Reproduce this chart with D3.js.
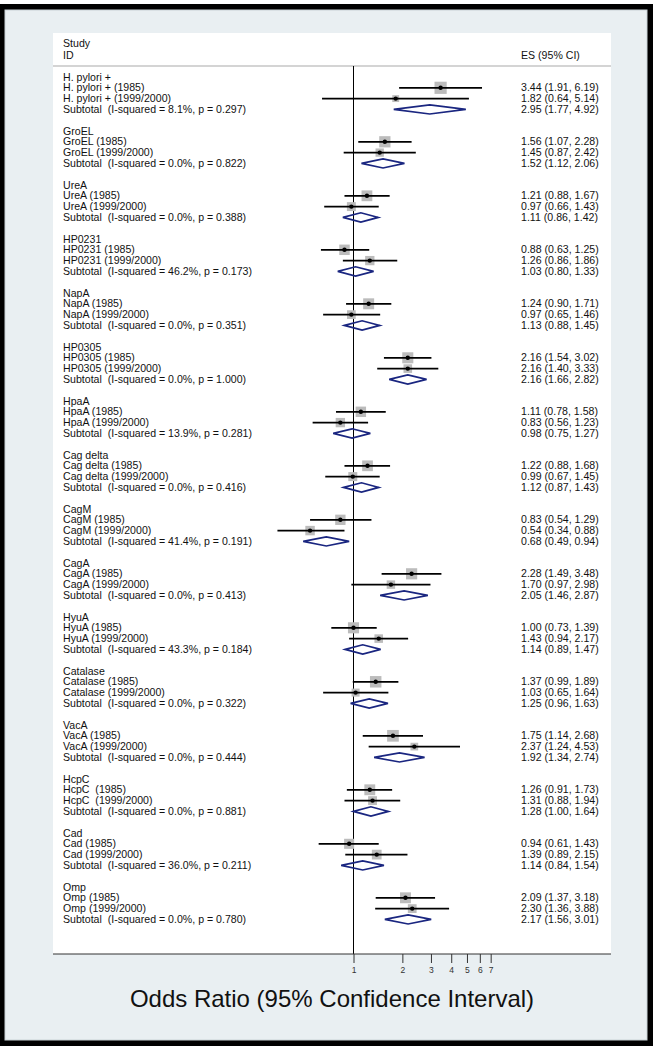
<!DOCTYPE html>
<html>
<head>
<meta charset="utf-8">
<script src="https://cdn.jsdelivr.net/npm/d3@7"></script>
<style>
  body { margin: 0; background: #fff; }
  svg text { font-family: "Liberation Sans", Arial, sans-serif; white-space: pre; }
</style>
</head>
<body>
<div id="chart"></div>
<script>
// markers / groups
const groups = ["H. pylori +", "GroEL", "UreA", "HP0231", "NapA", "HP0305", "HpaA", "Cag delta",
  "CagM", "CagA", "HyuA", "Catalase", "VacA", "HcpC", "Cad", "Omp"];
const labels1985 = ["H. pylori + (1985)", "GroEL (1985)", "UreA (1985)", "HP0231 (1985)", "NapA (1985)",
  "HP0305 (1985)", "HpaA (1985)", "Cag delta (1985)", "CagM (1985)", "CagA (1985)", "HyuA (1985)",
  "Catalase (1985)", "VacA (1985)", "HcpC  (1985)", "Cad (1985)", "Omp (1985)"];
const labels1999 = ["H. pylori + (1999/2000)", "GroEL (1999/2000)", "UreA (1999/2000)", "HP0231 (1999/2000)",
  "NapA (1999/2000)", "HP0305 (1999/2000)", "HpaA (1999/2000)", "Cag delta (1999/2000)", "CagM (1999/2000)",
  "CagA (1999/2000)", "HyuA (1999/2000)", "Catalase (1999/2000)", "VacA (1999/2000)", "HcpC  (1999/2000)",
  "Cad (1999/2000)", "Omp (1999/2000)"];

// 1985 cohort
const es1985 = [3.44, 1.56, 1.21, 0.88, 1.24, 2.16, 1.11, 1.22, 0.83, 2.28, 1.00, 1.37, 1.75, 1.26, 0.94, 2.09];
const lo1985 = [1.91, 1.07, 0.88, 0.63, 0.90, 1.54, 0.78, 0.88, 0.54, 1.49, 0.73, 0.99, 1.14, 0.91, 0.61, 1.37];
const hi1985 = [6.19, 2.28, 1.67, 1.25, 1.71, 3.02, 1.58, 1.68, 1.29, 3.48, 1.39, 1.89, 2.68, 1.73, 1.43, 3.18];

// 1999/2000 cohort
const es1999 = [1.82, 1.45, 0.97, 1.26, 0.97, 2.16, 0.83, 0.99, 0.54, 1.70, 1.43, 1.03, 2.37, 1.31, 1.39, 2.30];
const lo1999 = [0.64, 0.87, 0.66, 0.86, 0.65, 1.40, 0.56, 0.67, 0.34, 0.97, 0.94, 0.65, 1.24, 0.88, 0.89, 1.36];
const hi1999 = [5.14, 2.42, 1.43, 1.86, 1.46, 3.33, 1.23, 1.45, 0.88, 2.98, 2.17, 1.64, 4.53, 1.94, 2.15, 3.88];

// subtotals
const subI2 = ["8.1", "0.0", "0.0", "46.2", "0.0", "0.0", "13.9", "0.0", "41.4", "0.0", "43.3", "0.0", "0.0", "0.0", "36.0", "0.0"];
const subP = ["0.297", "0.822", "0.388", "0.173", "0.351", "1.000", "0.281", "0.416", "0.191", "0.413", "0.184", "0.322", "0.444", "0.881", "0.211", "0.780"];
const subEs = [2.95, 1.52, 1.11, 1.03, 1.13, 2.16, 0.98, 1.12, 0.68, 2.05, 1.14, 1.25, 1.92, 1.28, 1.14, 2.17];
const subLo = [1.77, 1.12, 0.86, 0.80, 0.88, 1.66, 0.75, 0.87, 0.49, 1.46, 0.89, 0.96, 1.34, 1.00, 0.84, 1.56];
const subHi = [4.92, 2.06, 1.42, 1.33, 1.45, 2.82, 1.27, 1.43, 0.94, 2.87, 1.47, 1.63, 2.74, 1.64, 1.54, 3.01];

const tickValues = [1, 2, 3, 4, 5, 6, 7];
const xTitle = "Odds Ratio (95% Confidence Interval)";

const W = 656, H = 1048;
const box = { left: 53, right: 611, top: 33, bottom: 954 };
const textX = 63, esX = 521;
const firstRowY = 77, rowH = 10.8;
const navy = "#1a2680";

const svg = d3.select("#chart").append("svg")
  .attr("width", W)
  .attr("height", H);

// frame + graph region
svg.append("rect").attr("x", 0).attr("y", 4).attr("width", 653).attr("height", 1042).attr("fill", "#000");
svg.append("rect").attr("x", 5).attr("y", 10).attr("width", 642).attr("height", 1030)
  .attr("fill", "#e9eff2").attr("stroke", "#c9d2d6").attr("stroke-width", 1);
svg.append("rect")
  .attr("x", box.left).attr("y", box.top)
  .attr("width", box.right - box.left).attr("height", box.bottom - box.top)
  .attr("fill", "#fff");

const x = d3.scaleLog().domain([1, 7]).range([353.5, 353.5 + 70.5 * Math.log(7)]);
const yRow = i => firstRowY + i * rowH;
// box side from within-subgroup inverse variance weight
const side = d3.scaleSqrt().domain([0, 1]).range([0, 14]);

// stata text is a bit wider than arial at the same height
const fs = 10;
const txt = (sel, s, px, py) => sel.append("text")
  .attr("transform", `translate(${px},${py + 3.6}) scale(1.06,1)`)
  .attr("font-size", fs)
  .attr("fill", "#111")
  .text(s);

// header
txt(svg, "Study", textX, 43);
txt(svg, "ID", textX, 55);
txt(svg, "ES (95% CI)", esX, 55);
svg.append("line")
  .attr("x1", box.left).attr("x2", box.right)
  .attr("y1", 66).attr("y2", 66)
  .attr("stroke", "#a9a9a9").attr("stroke-width", 1);

// null line
svg.append("line")
  .attr("x1", x(1)).attr("x2", x(1))
  .attr("y1", 66).attr("y2", box.bottom)
  .attr("stroke", "#000").attr("stroke-width", 1);

const fmtCI = (e, l, h) => `${e.toFixed(2)} (${l.toFixed(2)}, ${h.toFixed(2)})`;
const inv = (l, h) => {
  const se = (Math.log(h) - Math.log(l)) / (2 * 1.96);
  return 1 / (se * se);
};

const g = svg.append("g");

groups.forEach((name, gi) => {
  const base = gi * 5;
  txt(g, name, textX, yRow(base));

  const w1 = inv(lo1985[gi], hi1985[gi]), w2 = inv(lo1999[gi], hi1999[gi]);
  const studies = [
    { label: labels1985[gi], es: es1985[gi], lo: lo1985[gi], hi: hi1985[gi], w: w1 / (w1 + w2), row: base + 1 },
    { label: labels1999[gi], es: es1999[gi], lo: lo1999[gi], hi: hi1999[gi], w: w2 / (w1 + w2), row: base + 2 }
  ];

  studies.forEach(d => {
    const cy = yRow(d.row);
    const s = side(d.w);
    txt(g, d.label, textX, cy);
    txt(g, fmtCI(d.es, d.lo, d.hi), esX, cy);
    g.append("rect")
      .attr("x", x(d.es) - s / 2).attr("y", cy - s / 2)
      .attr("width", s).attr("height", s)
      .attr("fill", "#bcbcbc");
    g.append("line")
      .attr("x1", x(d.lo)).attr("x2", x(d.hi))
      .attr("y1", cy).attr("y2", cy)
      .attr("stroke", "#000").attr("stroke-width", 1.7);
    g.append("circle")
      .attr("cx", x(d.es)).attr("cy", cy).attr("r", 2.2)
      .attr("fill", "#000");
  });

  // subtotal
  const sy = yRow(base + 3);
  txt(g, `Subtotal  (I-squared = ${subI2[gi]}%, p = ${subP[gi]})`, textX, sy);
  txt(g, fmtCI(subEs[gi], subLo[gi], subHi[gi]), esX, sy);
  const pts = [[x(subLo[gi]), sy], [x(subEs[gi]), sy - 4.6], [x(subHi[gi]), sy], [x(subEs[gi]), sy + 4.6]];
  g.append("path")
    .attr("d", d3.line()(pts) + "Z")
    .attr("fill", "none")
    .attr("stroke", navy).attr("stroke-width", 1.7)
    .attr("stroke-linejoin", "miter");
});

// x axis
const axis = svg.append("g")
  .attr("transform", `translate(0,${box.bottom})`)
  .call(d3.axisBottom(x).tickValues(tickValues).tickFormat(d3.format("d")).tickSize(9).tickPadding(4));
axis.select(".domain").remove();
axis.selectAll(".tick line").attr("stroke", "#333");
axis.selectAll(".tick text").attr("font-size", 8.5).attr("fill", "#333")
  .style("font-family", "\"Liberation Sans\", Arial, sans-serif");
svg.append("line")
  .attr("x1", box.left).attr("x2", box.right)
  .attr("y1", box.bottom).attr("y2", box.bottom)
  .attr("stroke", "#333").attr("stroke-width", 1);

svg.append("text")
  .attr("x", 332).attr("y", 1007)
  .attr("text-anchor", "middle")
  .attr("font-size", 24)
  .attr("fill", "#111")
  .text(xTitle);
</script>
</body>
</html>
